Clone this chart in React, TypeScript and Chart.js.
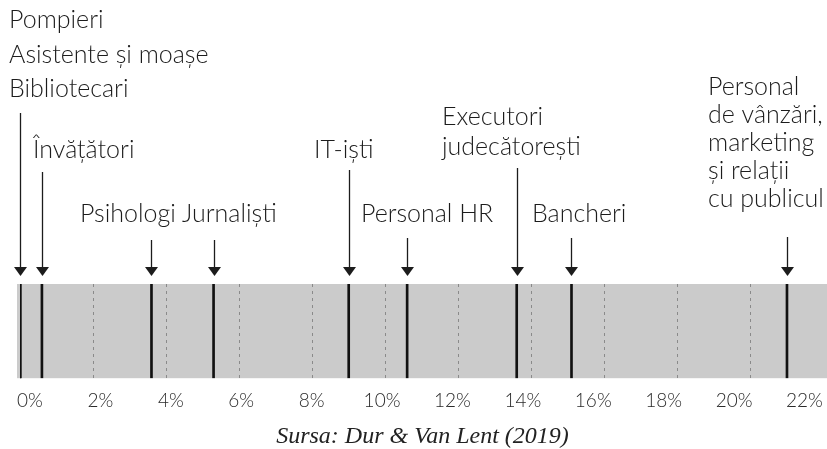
import React, { useEffect, useRef } from "react";
import { Chart, registerables } from "chart.js";

Chart.register(...registerables);

// ---- data ----
const occupations = [
  "Pompieri",
  "Asistente și moașe",
  "Bibliotecari",
  "Învățători",
  "Psihologi",
  "Jurnaliști",
  "IT-iști",
  "Personal HR",
  "Executori\njudecătorești",
  "Bancheri",
  "Personal\nde vânzări,\nmarketing\nși relații\ncu publicul",
];
const shares = [0, 0, 0, 0.6, 3.6, 5.3, 9.0, 10.6, 13.6, 15.1, 21.0];
const tickValues = [0, 2, 4, 6, 8, 10, 12, 14, 16, 18, 20, 22];
const tickLabels = ["0%", "2%", "4%", "6%", "8%", "10%", "12%", "14%", "16%", "18%", "20%", "22%"];
const sourceText = "Sursa: Dur & Van Lent (2019)";

// ---- layout (pixels), one entry per distinct marker, in order ----
const labelLayout = [
  { x: 9, y: 28, step: 34.5, shaftTop: 113 },
  { x: 33, y: 158, step: 30, shaftTop: 172 },
  { x: 80, y: 222, step: 30, shaftTop: 240 },
  { x: 182, y: 222, step: 30, shaftTop: 240 },
  { x: 314, y: 158, step: 30, shaftTop: 170 },
  { x: 361, y: 222, step: 30, shaftTop: 238 },
  { x: 442, y: 125, step: 30, shaftTop: 168 },
  { x: 532, y: 222, step: 30, shaftTop: 238 },
  { x: 708, y: 95, step: 28, shaftTop: 237 },
];

const BAND = "#cbcbcb";
const INK = "#1c1c1c";
const LABEL_FONT = "300 25px Lato";

const markerValues: number[] = [];
const markerLines: string[][] = [];
shares.forEach((v, i) => {
  let k = markerValues.indexOf(v);
  if (k < 0) {
    markerValues.push(v);
    markerLines.push([]);
    k = markerValues.length - 1;
  }
  markerLines[k].push(...occupations[i].split("\n"));
});

const annotate = {
  id: "annotate",
  beforeDraw(chart: any) {
    const { ctx, chartArea: a, scales } = chart;
    ctx.save();
    ctx.fillStyle = BAND;
    const left = scales.x.getPixelForValue(0) - 3;
    ctx.fillRect(left, a.top, chart.width - left, a.bottom - a.top);
    ctx.restore();
  },
  afterDatasetsDraw(chart: any) {
    const { ctx, chartArea: a, scales } = chart;
    ctx.save();
    ctx.fillStyle = INK;
    ctx.strokeStyle = INK;
    ctx.font = LABEL_FONT;
    ctx.textAlign = "left";
    ctx.textBaseline = "alphabetic";
    markerValues.forEach((v, k) => {
      const L = labelLayout[k];
      const px = Math.round(scales.x.getPixelForValue(v)) + 0.5;
      const tip = a.top - 8;
      const base = tip - 9;
      ctx.lineWidth = 1.3;
      ctx.beginPath();
      ctx.moveTo(px, L.shaftTop);
      ctx.lineTo(px, base + 1);
      ctx.stroke();
      ctx.beginPath();
      ctx.moveTo(px - 6.5, base);
      ctx.lineTo(px + 6.5, base);
      ctx.lineTo(px, tip);
      ctx.closePath();
      ctx.fill();
      markerLines[k].forEach((t, j) => {
        ctx.fillText(t, L.x, L.y + j * L.step);
      });
    });
    ctx.restore();
  },
};

export default function App() {
  const ref = useRef<HTMLCanvasElement | null>(null);
  useEffect(() => {
    if (!ref.current) return;
    const chart = new Chart(ref.current, {
      type: "bar",
      data: {
        datasets: [
          {
            data: shares.map((v) => ({ x: v, y: [0, 1] })) as any,
            backgroundColor: "#111111",
            barThickness: 2,
            borderWidth: 0,
          },
        ],
      },
      options: {
        animation: false,
        responsive: false,
        events: [],
        layout: { padding: { top: 284, left: 20, right: 2, bottom: 0 } },
        scales: {
          x: {
            type: "linear",
            position: "bottom",
            offset: false,
            min: 0,
            max: 22,
            ticks: { display: false, stepSize: 2 },
            grid: {
              offset: false,
              drawTicks: false,
              lineWidth: 1,
              color: (c: any) =>
                c.tick && (c.tick.value === 0 || c.tick.value === 22) ? "rgba(0,0,0,0)" : "#8a8a8a",
            },
            border: { display: false, dash: [3, 4] },
          },
          xt: {
            type: "linear",
            position: "bottom",
            offset: false,
            min: -0.2835,
            max: 22.54,
            afterBuildTicks: (s: any) => {
              s.ticks = tickValues.map((v) => ({ value: v }));
            },
            ticks: {
              autoSkip: false,
              maxRotation: 0,
              padding: 4,
              color: "#2a2a2a",
              font: { family: "Lato", size: 19, weight: "300" as any },
              callback: (v: any) => {
                const i = tickValues.indexOf(Number(v));
                return i >= 0 ? tickLabels[i] : "";
              },
            },
            grid: { display: true, offset: false, drawOnChartArea: false, drawTicks: true, tickLength: 7, color: "rgba(0,0,0,0)" },
            border: { display: false },
          },
          y: { display: false, min: 0, max: 1 },
        },
        plugins: {
          legend: { display: false },
          tooltip: { enabled: false },
          title: {
            display: true,
            position: "bottom",
            text: sourceText,
            color: "#222222",
            font: { family: "Liberation Serif", style: "italic", size: 24, weight: "normal", lineHeight: 1 },
            padding: { top: 9, bottom: 0 },
          },
        },
      },
      plugins: [annotate],
    });
    return () => chart.destroy();
  }, []);
  return (
    <div style={{ position: "absolute", left: 0, top: 0, width: 827, height: 449, background: "#ffffff" }}>
      <canvas ref={ref} width={827} height={449} style={{ display: "block" }} />
    </div>
  );
}
